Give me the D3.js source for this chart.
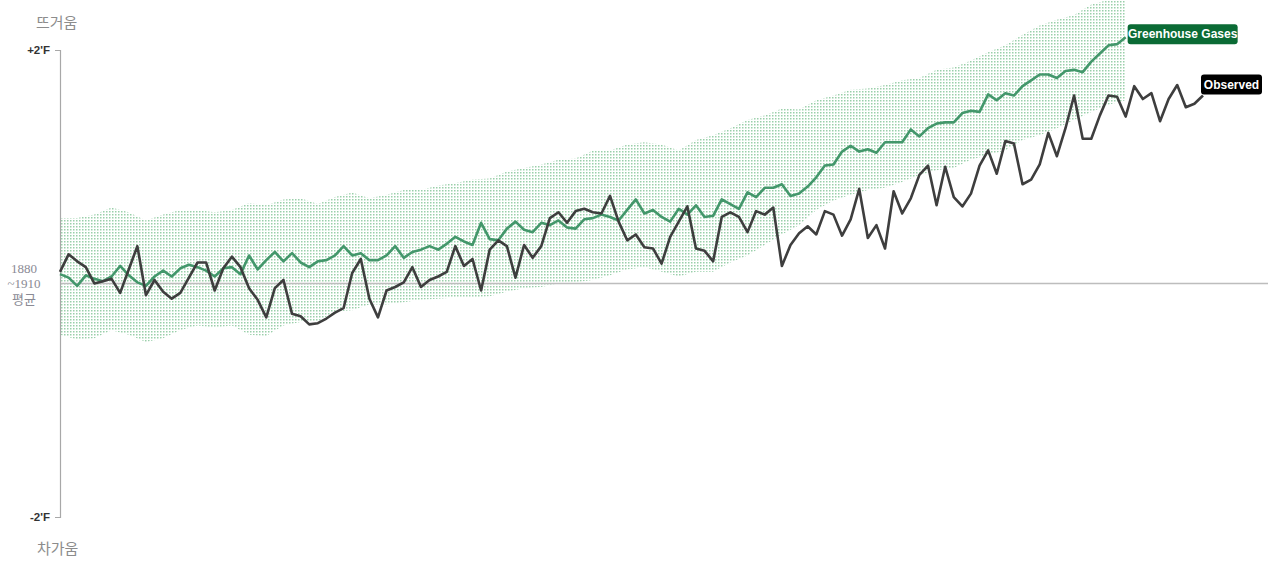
<!DOCTYPE html>
<html>
<head>
<meta charset="utf-8">
<script src="https://cdn.jsdelivr.net/npm/d3@7/dist/d3.min.js"></script>
<style>
  html, body { margin: 0; padding: 0; background: #fff; }
  svg { display: block; }
</style>
</head>
<body>
<svg id="chart" width="1280" height="572"></svg>
<script>
// ---- Data (°F anomaly vs 1880–1910 average) ----
const obsStartYear = 1880;
const observed = [
  0.10, 0.25, 0.19, 0.14, 0.00, 0.02, 0.04, -0.08, 0.12, 0.32,
  -0.10, 0.03, -0.07, -0.13, -0.08, 0.05, 0.18, 0.18, -0.06, 0.13,
  0.23, 0.14, -0.04, -0.14, -0.29, -0.04, 0.03, -0.26, -0.28, -0.35,
  -0.34, -0.30, -0.25, -0.21, 0.09, 0.21, -0.13, -0.29, -0.06, -0.03,
  0.01, 0.14, -0.03, 0.03, 0.06, 0.10, 0.32, 0.15, 0.21, -0.06,
  0.29, 0.37, 0.32, 0.05, 0.33, 0.22, 0.32, 0.56, 0.61, 0.52,
  0.62, 0.64, 0.61, 0.60, 0.75, 0.53, 0.37, 0.42, 0.31, 0.30,
  0.17, 0.40, 0.53, 0.66, 0.30, 0.28, 0.19, 0.57, 0.61, 0.57,
  0.44, 0.62, 0.59, 0.65, 0.15, 0.33, 0.43, 0.49, 0.42, 0.62,
  0.59, 0.41, 0.55, 0.81, 0.39, 0.50, 0.30, 0.79, 0.60, 0.73,
  0.93, 1.01, 0.67, 1.00, 0.74, 0.66, 0.77, 1.01, 1.14, 0.94,
  1.22, 1.20, 0.85, 0.89, 1.02, 1.29, 1.09, 1.33, 1.61, 1.24,
  1.24, 1.44, 1.61, 1.60, 1.43, 1.69, 1.58, 1.63, 1.39, 1.58,
  1.70, 1.51, 1.54, 1.61
];
const ghgStartYear = 1880;
const greenhouse = [
  0.08, 0.05, -0.02, 0.07, 0.04, 0.02, 0.06, 0.15, 0.07, 0.01,
  -0.02, 0.06, 0.11, 0.06, 0.13, 0.16, 0.14, 0.11, 0.06, 0.13,
  0.14, 0.08, 0.24, 0.12, 0.20, 0.27, 0.19, 0.26, 0.18, 0.14,
  0.19, 0.20, 0.24, 0.32, 0.24, 0.26, 0.20, 0.20, 0.24, 0.32,
  0.22, 0.27, 0.29, 0.32, 0.29, 0.34, 0.40, 0.36, 0.33, 0.52,
  0.38, 0.37, 0.47, 0.53, 0.46, 0.44, 0.52, 0.50, 0.54, 0.48,
  0.47, 0.55, 0.56, 0.59, 0.57, 0.54, 0.63, 0.72, 0.60, 0.63,
  0.57, 0.53, 0.64, 0.59, 0.67, 0.57, 0.58, 0.72, 0.68, 0.64,
  0.78, 0.74, 0.82, 0.82, 0.85, 0.75, 0.77, 0.83, 0.91, 1.01,
  1.02, 1.13, 1.18, 1.13, 1.15, 1.12, 1.21, 1.21, 1.21, 1.32,
  1.26, 1.33, 1.37, 1.38, 1.38, 1.46, 1.48, 1.47, 1.62, 1.57,
  1.63, 1.61, 1.69, 1.74, 1.79, 1.79, 1.76, 1.82, 1.83, 1.81,
  1.90, 1.97, 2.04, 2.05, 2.11
];
// model spread band (every 2 years)
const bandStartYear = 1880;
const bandStep = 2;
const bandHigh = [
  0.56, 0.56, 0.59, 0.65, 0.61, 0.54, 0.59, 0.63, 0.63, 0.61,
  0.63, 0.69, 0.67, 0.72, 0.73, 0.68, 0.74, 0.78, 0.73, 0.76,
  0.80, 0.80, 0.84, 0.86, 0.89, 0.90, 0.96, 0.99, 1.02, 1.06,
  1.07, 1.14, 1.14, 1.19, 1.21, 1.19, 1.14, 1.23, 1.27, 1.33,
  1.40, 1.44, 1.50, 1.49, 1.57, 1.61, 1.66, 1.67, 1.70, 1.74,
  1.76, 1.83, 1.85, 1.91, 1.98, 2.04, 2.13, 2.21, 2.26, 2.30,
  2.39, 2.43, 2.47
];
const bandLow = [
  -0.44, -0.48, -0.47, -0.40, -0.44, -0.50, -0.47, -0.40, -0.36, -0.38,
  -0.36, -0.44, -0.45, -0.36, -0.33, -0.33, -0.24, -0.23, -0.18, -0.18,
  -0.16, -0.14, -0.13, -0.12, -0.12, -0.11, -0.07, -0.04, -0.03, 0.00,
  0.01, 0.03, 0.07, 0.12, 0.14, 0.10, 0.06, 0.10, 0.10, 0.18,
  0.24, 0.33, 0.42, 0.50, 0.63, 0.71, 0.76, 0.80, 0.82, 0.87,
  0.93, 0.97, 0.99, 1.06, 1.10, 1.14, 1.23, 1.27, 1.33, 1.40,
  1.47, 1.53, 1.57
];
const yTicks = [-2, 2];
const hotLabel = "뜨거움";
const coldLabel = "차가움";
const baseLabel = ["1880", "~1910", "평균"];
const ghgName = "Greenhouse Gases";
const obsName = "Observed";

// ---- Build ----
const obsData = observed.map((v, i) => ({ year: obsStartYear + i, v }));
const ghgData = greenhouse.map((v, i) => ({ year: ghgStartYear + i, v }));
const bandData = bandHigh.map((h, i) => ({ year: bandStartYear + i * bandStep, hi: h, lo: bandLow[i] }));

const svg = d3.select("#chart");
const lastObsYear = obsData[obsData.length - 1].year;

const x = d3.scaleLinear().domain([obsStartYear, lastObsYear]).range([60, 1203]);
const y = d3.scaleLinear().domain([-2, 2]).range([517, 50]);

const defs = svg.append("defs");
const pat = defs.append("pattern")
  .attr("id", "dots").attr("patternUnits", "userSpaceOnUse")
  .attr("width", 3).attr("height", 3);
pat.append("rect").attr("x", 1).attr("y", 1).attr("width", 1.5).attr("height", 1.5).attr("fill", "#9acfaa");

// band
const area = d3.area()
  .x(d => x(d.year))
  .y0(d => y(d.lo))
  .y1(d => y(d.hi));
svg.append("path").datum(bandData).attr("d", area).attr("fill", "url(#dots)");

// zero line
svg.append("line")
  .attr("x1", 60).attr("x2", 1268)
  .attr("y1", y(0)).attr("y2", y(0))
  .attr("stroke", "#bdbdbd").attr("stroke-width", 1.5);

// axis
const axis = d3.axisLeft(y).tickValues(yTicks)
  .tickSize(0).tickSizeOuter(5).tickPadding(10)
  .tickFormat(d => (d > 0 ? "+" : "") + d + "'F");
const ag = svg.append("g").attr("transform", "translate(60,0)").call(axis);
ag.select(".domain").attr("stroke", "#a8a8a8").attr("stroke-width", 1.2);
ag.selectAll("text")
  .attr("fill", "#333").attr("font-size", 11.5).attr("font-weight", "bold")
  .attr("font-family", "Liberation Sans, Arial, sans-serif");

// lines
const line = d3.line().x(d => x(d.year)).y(d => y(d.v));
svg.append("path").datum(ghgData).attr("d", line)
  .attr("fill", "none").attr("stroke", "#43976b").attr("stroke-width", 2.6)
  .attr("stroke-linejoin", "round");
svg.append("path").datum(obsData).attr("d", line)
  .attr("fill", "none").attr("stroke", "#3e3e3e").attr("stroke-width", 2.6)
  .attr("stroke-linejoin", "round");

// labels on line ends
function tag(px, py, text, fill, w) {
  const g = svg.append("g").attr("transform", `translate(${px},${py})`);
  g.append("rect").attr("width", w).attr("height", 20).attr("rx", 3).attr("fill", fill);
  g.append("text").attr("x", w / 2).attr("y", 14).attr("text-anchor", "middle")
    .attr("fill", "#fff").attr("font-size", 12).attr("font-weight", "bold")
    .attr("font-family", "Liberation Sans, Arial, sans-serif").text(text);
}
const gl = ghgData[ghgData.length - 1];
tag(x(gl.year) + 2, y(gl.v) - 13, ghgName, "#0b6b35", 110);
const ol = obsData[obsData.length - 1];
tag(x(ol.year) - 2, y(ol.v) - 21, obsName, "#000", 61);

// side labels
const cjk = "'Noto Sans CJK KR', 'Noto Sans', sans-serif";
svg.append("text").attr("x", 36).attr("y", 28).attr("font-size", 15)
  .attr("fill", "#8c8c8c").attr("font-family", cjk).text(hotLabel);
svg.append("text").attr("x", 37).attr("y", 554).attr("font-size", 15)
  .attr("fill", "#8c8c8c").attr("font-family", cjk).text(coldLabel);

const bl = svg.append("text").attr("text-anchor", "middle").attr("fill", "#8a8a94")
  .attr("font-size", 13);
const baseY = [273, 288, 304];
baseLabel.forEach((t, i) => {
  bl.append("tspan").attr("x", 24).attr("y", baseY[i])
    .attr("font-family", i < 2 ? "'Liberation Serif', 'DejaVu Serif', serif" : cjk)
    .text(t);
});
</script>
</body>
</html>
